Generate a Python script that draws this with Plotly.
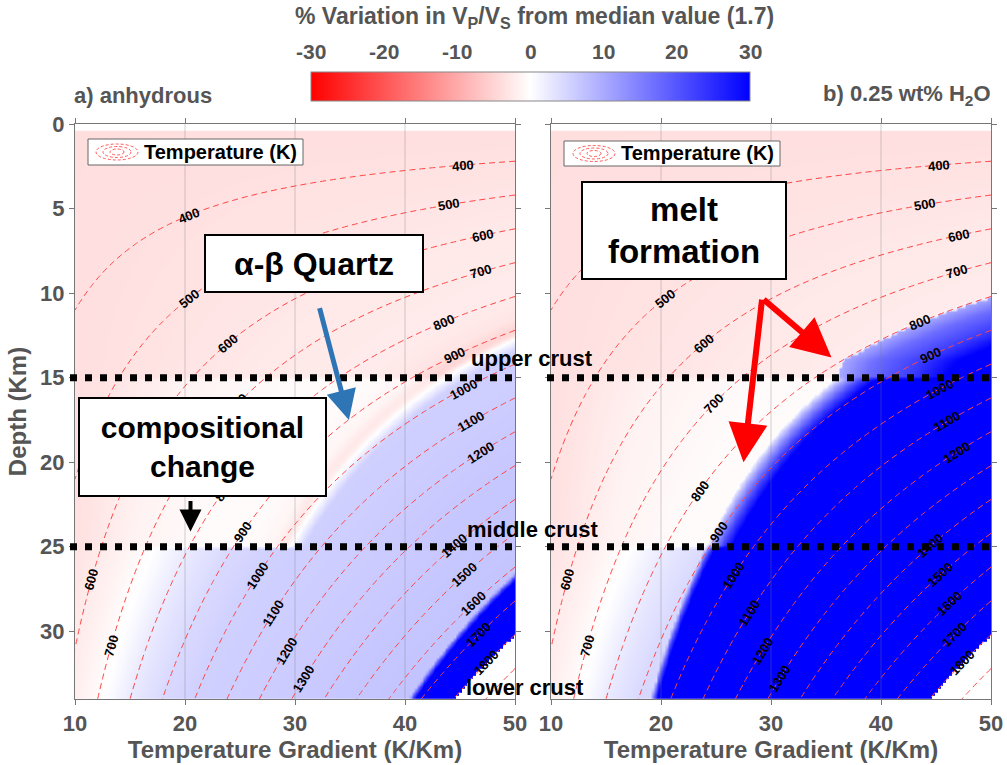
import numpy as np
import plotly.graph_objects as go

W, H = 1007, 765
FONT = "Liberation Sans"
GREY = "#555555"

# ---- model description -------------------------------------------------
GRADIENT_TICKS = [10, 20, 30, 40, 50]          # K/km
DEPTH_TICKS = [0, 5, 10, 15, 20, 25, 30]       # km
DEPTH_MAX = 34
T_SURFACE = 290                                 # K at the surface
T_MODEL_MAX = 1800                              # K, model upper limit
CONTOUR_LEVELS = [400, 1900, 100]               # start, end, step (K)
CV_TICKS = [-30, -20, -10, 0, 10, 20, 30]      # % Vp/Vs variation

# crustal layers (top depth, km) and their labels
LAYER_TOPS = [0, 15, 25]
LAYER_NAMES = ["upper crust", "middle crust", "lower crust"]

# alpha-beta quartz transition temperature vs depth
QTZ_DEPTH = [0, 34]
QTZ_T = [805, 1094]

# Vp/Vs variation (%) vs temperature offset from the quartz transition
UPPER_DT = [-650, -500, -400, -250, -100, -40, -8, 0, 12, 40, 300, 900]
UPPER_VAL = [-4.2, -3.8, -3.3, -2.6, -2.3, -3.0, -5.0, -4.0, 0.0, 5.5, 6.5, 7.5]
MIDDLE_DT = [-550, -450, -350, -200, -80, -30, -8, 0, 12, 40, 300, 900]
MIDDLE_VAL = [-4.5, -3.2, -1.5, -0.5, -0.5, -1.2, -2.8, -2.2, 0.0, 5.5, 6.5, 7.5]
# lower crust: Vp/Vs variation (%) vs absolute temperature
LOWER_T = [450, 550, 650, 720, 800, 900, 1000, 1300, 1600]
LOWER_VAL = [-4.5, -3.2, -1.5, 0.0, 2.5, 4.5, 5.5, 6.2, 7.0]

# solidus temperatures vs depth
DRY_SOLIDUS_DEPTH = [25, 34]
DRY_SOLIDUS_T = [1608, 1660]
WET_SOLIDUS_DEPTH = [0, 14, 15, 25, 34]
WET_SOLIDUS_T = [800, 800, 830, 893, 937]

# melt-bearing Vp/Vs variation (%) vs temperature above the solidus
MELT_DT_UPPER = [0, 40, 100, 160]
MELT_VAL_UPPER = [10, 17, 23, 32]
MELT_DT_MIDDLE = [0, 15, 35, 60]
MELT_VAL_MIDDLE = [3, 12, 22, 32]
MELT_DT_LOWER = [0, 10, 25]
MELT_VAL_LOWER = [8, 22, 34]

# isotherm labels: level (K) and the gradient (K/km) where it is written
RIGHT_LABEL_LEVELS = [400, 500, 600, 700, 800, 900, 1000, 1100, 1200,
                      1400, 1500, 1600, 1700, 1800]
RIGHT_LABEL_G = [45.3, 44.0, 47.1, 46.9, 43.5, 44.5, 45.3, 46.0, 46.9,
                 44.5, 45.4, 46.2, 46.7, 47.4]
MID_LABEL_LEVELS = [400, 500, 600, 700, 800, 900, 1000, 1100, 1200, 1300]
MID_LABEL_G = [20.4, 20.4, 23.9, 24.8, 23.5, 25.3, 26.6, 28.0, 29.2, 30.8]
LEFT_LABEL_LEVELS = [600, 700]
LEFT_LABEL_G = [11.5, 13.3]

# ---- grids ---------------------------------------------------------------
g = np.arange(10, 50.001, 0.25)
z = np.arange(0.5, DEPTH_MAX + 0.001, 0.2)
G, Z = np.meshgrid(g, z)
T = T_SURFACE + G * Z

upper = Z < LAYER_TOPS[1]
middle = (Z >= LAYER_TOPS[1]) & (Z < LAYER_TOPS[2])
lower = Z >= LAYER_TOPS[2]


def solid_vpvs(T, Z):
    dq = T - np.interp(Z, QTZ_DEPTH, QTZ_T)
    v = np.interp(T, LOWER_T, LOWER_VAL)
    v = np.where(upper, np.interp(dq, UPPER_DT, UPPER_VAL), v)
    v = np.where(middle, np.interp(dq, MIDDLE_DT, MIDDLE_VAL), v)
    return v


def melt_vpvs(dT):
    v = np.interp(dT, MELT_DT_LOWER, MELT_VAL_LOWER)
    v = np.where(upper, np.interp(dT, MELT_DT_UPPER, MELT_VAL_UPPER), v)
    v = np.where(middle, np.interp(dT, MELT_DT_MIDDLE, MELT_VAL_MIDDLE), v)
    return v


base = solid_vpvs(T, Z)

dt_dry = T - np.interp(Z, DRY_SOLIDUS_DEPTH, DRY_SOLIDUS_T)
vp_dry = np.where(lower & (dt_dry >= 0), melt_vpvs(dt_dry), base)

dt_wet = T - np.interp(Z, WET_SOLIDUS_DEPTH, WET_SOLIDUS_T)
vp_wet = np.where(dt_wet >= 0, melt_vpvs(dt_wet), base)

vp_dry = np.where(T > T_MODEL_MAX, np.nan, np.round(vp_dry, 2))
vp_wet = np.where(T > T_MODEL_MAX, np.nan, np.round(vp_wet, 2))

# temperature field for the isotherms
gc = np.arange(10, 50.001, 0.5)
zc = np.arange(0, DEPTH_MAX + 0.001, 0.5)
Tc = T_SURFACE + gc[None, :] * zc[:, None]

# ---- figure --------------------------------------------------------------
fig = go.Figure()
for i, vals in enumerate([vp_dry, vp_wet]):
    xa = "x" if i == 0 else "x2"
    ya = "y" if i == 0 else "y2"
    fig.add_trace(go.Heatmap(x=g, y=z, z=vals, coloraxis="coloraxis",
                             zsmooth="best", xaxis=xa, yaxis=ya,
                             hoverinfo="skip"))
    fig.add_trace(go.Contour(
        x=gc, y=zc, z=Tc, xaxis=xa, yaxis=ya, showscale=False,
        hoverinfo="skip",
        contours=dict(coloring="none", start=CONTOUR_LEVELS[0],
                      end=CONTOUR_LEVELS[1], size=CONTOUR_LEVELS[2],
                      showlabels=False),
        line=dict(color="rgb(255,70,70)", width=1, dash="6px,4px")))

px_x = lambda p: p / W
px_y = lambda p: 1 - p / H
X0, X1, Y0, Y1 = 75, 515, 124, 699          # left panel plot area (px)
RX0, RX1 = 551, 991                         # right panel plot area (px)
PX_PER_G = (X1 - X0) / 40
PX_PER_KM = (Y1 - Y0) / DEPTH_MAX

axis_style = dict(showline=True, linecolor="#777", linewidth=1,
                  mirror="ticks", ticks="outside", ticklen=5,
                  tickcolor="#777", showgrid=False, zeroline=False,
                  automargin=False,
                  tickfont=dict(family=FONT, size=22, color=GREY,
                                weight="bold"))
xtitle = dict(text="Temperature Gradient (K/Km)", standoff=0,
              font=dict(family=FONT, size=24, color=GREY, weight="bold"))

fig.update_layout(
    width=W, height=H,
    margin=dict(l=0, r=0, t=0, b=0, pad=0, autoexpand=False),
    paper_bgcolor="white", plot_bgcolor="white", showlegend=False,
    xaxis=dict(domain=[px_x(X0), px_x(X1)], range=[10, 50],
               tickvals=GRADIENT_TICKS, anchor="y", title=xtitle,
               **axis_style),
    xaxis2=dict(domain=[px_x(RX0), px_x(RX1)], range=[10, 50],
                tickvals=GRADIENT_TICKS, anchor="y2", title=xtitle,
                **axis_style),
    yaxis=dict(domain=[px_y(Y1), px_y(Y0)], range=[DEPTH_MAX, 0],
               tickvals=DEPTH_TICKS, anchor="x",
               title=dict(text="Depth (Km)", standoff=6,
                          font=dict(family=FONT, size=24, color=GREY,
                                    weight="bold")),
               **axis_style),
    yaxis2=dict(domain=[px_y(Y1), px_y(Y0)], range=[DEPTH_MAX, 0],
                tickvals=DEPTH_TICKS, anchor="x2", showticklabels=False,
                **axis_style),
    coloraxis=dict(
        cmin=CV_TICKS[0], cmax=CV_TICKS[-1],
        colorscale=[[0, "rgb(255,0,0)"], [0.5, "rgb(255,255,255)"],
                    [1, "rgb(0,0,255)"]],
        colorbar=dict(orientation="h", x=px_x(530.5), xanchor="center",
                      y=px_y(72), yanchor="top", len=439 / W,
                      lenmode="fraction", thickness=29, outlinecolor="#888",
                      outlinewidth=1, showticklabels=False, ticks="",
                      xpad=0, ypad=0)),
)

shapes = []
annotations = []


def label(x, y, text, size, color="black", **kw):
    d = dict(xref="paper", yref="paper", x=x, y=y, text=text,
             showarrow=False, xanchor="center", yanchor="middle",
             font=dict(family=FONT, size=size, color=color))
    d.update(kw)
    return d


# colorbar tick marks and labels
cb_left, cb_right = 311, 750
for v in CV_TICKS:
    xp = cb_left + (v - CV_TICKS[0]) / (CV_TICKS[-1] - CV_TICKS[0]) * (cb_right - cb_left)
    if CV_TICKS[0] < v < CV_TICKS[-1]:
        shapes.append(dict(type="line", xref="paper", yref="paper",
                           x0=px_x(xp), x1=px_x(xp), y0=px_y(72), y1=px_y(76),
                           line=dict(color="#444", width=1)))
    annotations.append(label(px_x(xp), px_y(52), f"<b>{v}</b>", 21, GREY))
annotations.append(label(
    px_x(534), px_y(17),
    "<b>% Variation in V<sub>P</sub>/V<sub>S</sub> from median value (1.7)</b>",
    23, GREY))

# panel titles
annotations.append(label(px_x(72), px_y(95), "<b>a) anhydrous</b>", 22, GREY,
                         xanchor="left"))
annotations.append(label(px_x(993), px_y(95),
                         "<b>b) 0.25 wt% H<sub>2</sub>O</b>", 22, GREY,
                         xanchor="right"))

# vertical grid lines and layer boundaries in both panels
for xa, ya, xl, xr in [("x", "y", 70, 518), ("x2", "y2", 547, 995)]:
    for gv in GRADIENT_TICKS[1:-1]:
        shapes.append(dict(type="line", xref=xa, yref=ya, x0=gv, x1=gv,
                           y0=0, y1=DEPTH_MAX, layer="above",
                           line=dict(color="rgba(120,120,120,0.35)", width=1)))
    for top in LAYER_TOPS[1:]:
        shapes.append(dict(type="line", xref="paper", yref=ya,
                           x0=px_x(xl), x1=px_x(xr), y0=top, y1=top,
                           layer="above",
                           line=dict(color="black", width=7, dash="7px,8px")))

# isotherm labels, written along each line
for xa, ya in [("x", "y"), ("x2", "y2")]:
    for levels, gpos in [(RIGHT_LABEL_LEVELS, RIGHT_LABEL_G),
                         (MID_LABEL_LEVELS, MID_LABEL_G),
                         (LEFT_LABEL_LEVELS, LEFT_LABEL_G)]:
        for lev, gl in zip(levels, gpos):
            c = lev - T_SURFACE
            zl = c / gl
            slope = -c / gl ** 2
            ang = np.degrees(np.arctan2(slope * PX_PER_KM, PX_PER_G))
            annotations.append(dict(
                xref=xa, yref=ya, x=gl, y=zl, text=f"<b>{lev}</b>",
                showarrow=False, textangle=float(ang),
                xanchor="center", yanchor="middle",
                font=dict(family=FONT, size=13, color="black")))

# isotherm legend boxes
for bx0, bx1, by0, by1, cx in [(88, 303, 139, 165, 117), (564, 780, 141, 166, 594)]:
    shapes.append(dict(type="rect", xref="paper", yref="paper",
                       x0=px_x(bx0), x1=px_x(bx1), y0=px_y(by1), y1=px_y(by0),
                       layer="above", fillcolor="white",
                       line=dict(color="#666", width=1)))
    cy = (by0 + by1) / 2
    for rx, ry in [(21, 8), (14, 5.5), (7, 3)]:
        shapes.append(dict(type="circle", xref="paper", yref="paper",
                           x0=px_x(cx - rx), x1=px_x(cx + rx),
                           y0=px_y(cy + ry), y1=px_y(cy - ry), layer="above",
                           line=dict(color="rgb(255,90,90)", width=1,
                                     dash="3px,2px")))
    annotations.append(label(px_x(bx1 - 4), px_y(cy), "<b>Temperature (K)</b>",
                             20, xanchor="right"))

# layer names between the panels
for name, yp, xp in zip(LAYER_NAMES, [358, 529, 687], [532, 532, 525]):
    annotations.append(label(px_x(xp), px_y(yp), f"<b>{name}</b>", 22))

# arrows
arrow_specs = [
    ("x", "y", 34.9, 17.5, 32.2, 10.8, "rgb(46,117,182)", 5, 1.2),
    ("x", "y", 20.5, 24.1, 20.5, 22.2, "black", 4, 1.1),
    ("x2", "y2", 35.5, 13.8, 29.2, 10.3, "rgb(255,0,0)", 6, 1.3),
    ("x2", "y2", 27.5, 20.0, 29.2, 10.3, "rgb(255,0,0)", 6, 1.3),
]
for xa, ya, hx, hy, tx, ty, col, wd, sz in arrow_specs:
    annotations.append(dict(xref=xa, yref=ya, axref=xa, ayref=ya, x=hx, y=hy,
                            ax=tx, ay=ty, text="", showarrow=True,
                            arrowhead=2, arrowsize=sz, arrowwidth=wd,
                            arrowcolor=col, standoff=0))

# text boxes
boxes = [
    ("<b>α-β Quartz</b>", 314, 263.5, 216, 55, 32),
    ("<b>compositional<br>change</b>", 202.5, 447, 245, 96, 30),
    ("<b>melt<br>formation</b>", 684, 230.5, 202, 95, 33),
]
for txt, cxp, cyp, bw, bh, fs in boxes:
    annotations.append(label(px_x(cxp), px_y(cyp), txt, fs,
                             width=bw, height=bh, borderpad=0,
                             bordercolor="black", borderwidth=2,
                             bgcolor="white", align="center",
                             valign="middle"))

fig.update_layout(shapes=shapes, annotations=annotations)
fig.write_html("out.html")
